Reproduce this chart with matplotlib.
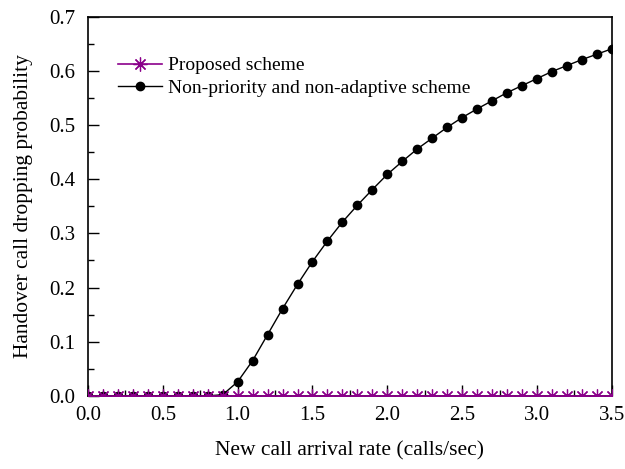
import numpy as np
import matplotlib
matplotlib.use('Agg')
import matplotlib.pyplot as plt
from matplotlib.ticker import MultipleLocator, FormatStrFormatter

# data
rate = np.round(np.arange(0, 36) * 0.1, 1)
proposed = [0.0] * 36
non_adaptive = [0.0, 0.0, 0.0, 0.0, 0.0, 0.0, 0.0, 0.0, 0.0, 0.002,
                0.026, 0.065, 0.113, 0.161, 0.206, 0.248, 0.286, 0.321, 0.352, 0.381,
                0.409, 0.433, 0.456, 0.476, 0.496, 0.514, 0.530, 0.545, 0.560, 0.573,
                0.586, 0.599, 0.610, 0.621, 0.631, 0.641]

plt.rcParams['font.family'] = ['Liberation Serif', 'DejaVu Serif']

fig = plt.figure(figsize=(6.25, 4.69), dpi=100)
ax = fig.add_axes([0.1408, 0.156, 0.838, 0.808])

ax.plot(rate, non_adaptive, color='black', lw=1.0, marker='o', ms=6,
        label='Non-priority and non-adaptive scheme', zorder=3)
ax.plot(rate, proposed, color='#8B008B', lw=1.2, marker=(8, 2, 0), ms=10,
        mew=0.9, label='Proposed scheme', zorder=4)

ax.set_xlim(0, 3.5)
ax.set_ylim(0, 0.7)
ax.xaxis.set_major_locator(MultipleLocator(0.5))
ax.xaxis.set_minor_locator(MultipleLocator(0.25))
ax.yaxis.set_major_locator(MultipleLocator(0.1))
ax.yaxis.set_minor_locator(MultipleLocator(0.05))
ax.xaxis.set_major_formatter(FormatStrFormatter('%.1f'))
ax.yaxis.set_major_formatter(FormatStrFormatter('%.1f'))
ax.tick_params(which='both', direction='in', top=False, right=False, labelsize=15)
ax.tick_params(which='major', length=8, width=1)
ax.tick_params(which='minor', length=4, width=1)
ax.tick_params(axis='x', pad=7)
ax.tick_params(axis='y', pad=9)
for s in ax.spines.values():
    s.set_linewidth(1.2)

ax.set_xlabel('New call arrival rate (calls/sec)', fontsize=15.5, labelpad=12)
ax.set_ylabel('Handover call dropping probability', fontsize=15.5, labelpad=12)

h, l = ax.get_legend_handles_labels()
ax.legend(h[::-1], l[::-1], loc='upper left', bbox_to_anchor=(0.042, 0.915),
          frameon=False, fontsize=14, handlelength=2.3, handletextpad=0.3,
          labelspacing=0.25, borderaxespad=0)

fig.savefig('out.png', dpi=100)
